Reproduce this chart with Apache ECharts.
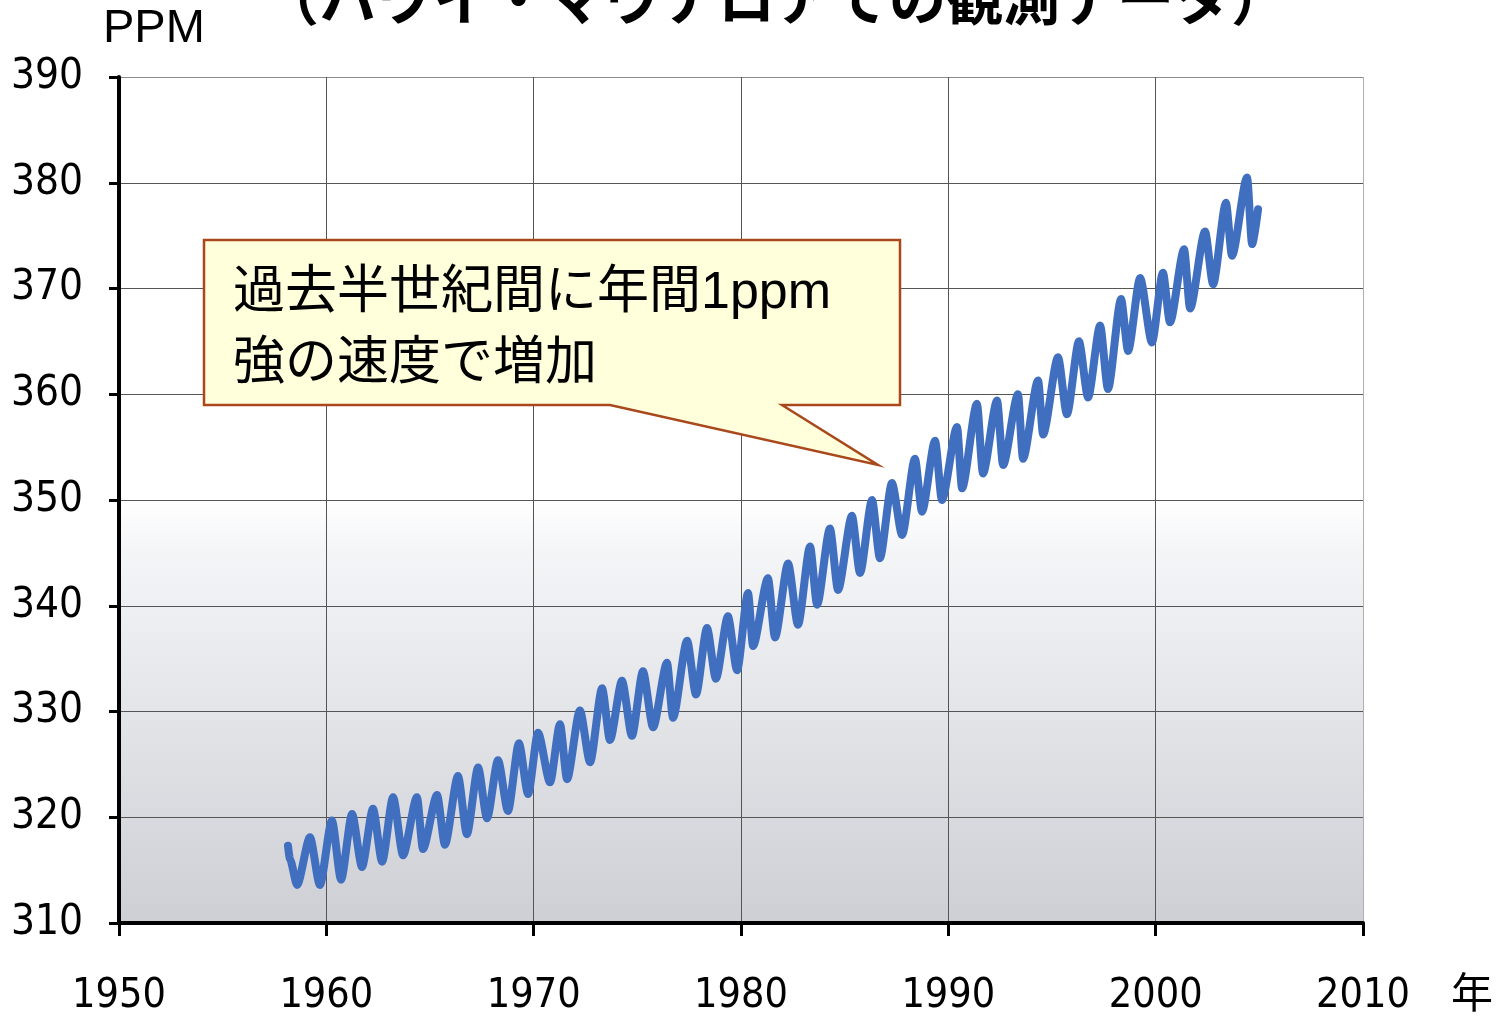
<!DOCTYPE html>
<html>
<head>
<meta charset="utf-8">
<script src="https://cdn.jsdelivr.net/npm/echarts@6/dist/echarts.min.js"></script>
<style>
  html, body { margin: 0; padding: 0; background: #fff; }
  #chart { width: 1499px; height: 1017px; }
</style>
</head>
<body>
<div id="chart"></div>
<script>
// Mauna Loa CO2 record: seasonal highs and lows (decimal year, ppm)
const years = [
  1958.15, 1958.25, 1958.59, 1959.21, 1959.69, 1960.27, 1960.71, 1961.24, 1961.72, 1962.25,
  1962.69, 1963.22, 1963.70, 1964.37, 1964.66, 1965.34, 1965.72, 1966.35, 1966.78, 1967.32,
  1967.75, 1968.28, 1968.76, 1969.29, 1969.73, 1970.21, 1970.79, 1971.27, 1971.61, 1972.23,
  1972.72, 1973.30, 1973.68, 1974.26, 1974.74, 1975.27, 1975.76, 1976.43, 1976.72, 1977.40,
  1977.83, 1978.36, 1978.79, 1979.37, 1979.81, 1980.34, 1980.58, 1981.30, 1981.64, 1982.27,
  1982.75, 1983.33, 1983.67, 1984.29, 1984.68, 1985.35, 1985.74, 1986.32, 1986.70, 1987.28,
  1987.77, 1988.39, 1988.73, 1989.36, 1989.69, 1990.42, 1990.66, 1991.38, 1991.67, 1992.35,
  1992.64, 1993.36, 1993.60, 1994.33, 1994.57, 1995.29, 1995.72, 1996.30, 1996.74, 1997.32,
  1997.70, 1998.33, 1998.67, 1999.25, 1999.82, 2000.35, 2000.69, 2001.37, 2001.66, 2002.38,
  2002.77, 2003.39, 2003.68, 2004.41, 2004.65, 2004.94
];
const ppm = [
  317.3, 316.0, 313.6, 318.1, 313.6, 319.7, 314.1, 320.3, 315.3, 320.8,
  315.8, 321.9, 316.4, 321.9, 317.0, 322.1, 317.4, 323.9, 318.4, 324.7,
  319.9, 325.4, 320.6, 327.0, 322.2, 328.0, 323.3, 328.8, 323.6, 330.1,
  325.2, 332.2, 327.3, 332.9, 327.7, 333.8, 328.5, 334.6, 329.4, 336.7,
  331.6, 337.9, 333.1, 339.0, 333.9, 341.2, 336.2, 342.6, 337.0, 344.0,
  338.2, 345.6, 340.1, 347.3, 341.5, 348.5, 343.1, 350.0, 344.5, 351.6,
  346.7, 353.9, 348.9, 355.6, 350.0, 356.9, 351.1, 359.1, 352.5, 359.4,
  353.3, 360.0, 353.9, 361.3, 356.2, 363.5, 358.1, 365.0, 359.7, 366.5,
  360.5, 369.0, 364.1, 371.0, 364.9, 371.5, 366.8, 373.7, 368.1, 375.4,
  370.4, 378.1, 373.1, 380.5, 374.2, 377.5
];

// Axis ranges and tick steps
const xTicks = [1950, 1960, 1970, 1980, 1990, 2000, 2010];
const yTicks = [310, 320, 330, 340, 350, 360, 370, 380, 390];

const chart = echarts.init(document.getElementById('chart'), null, { renderer: 'canvas' });

const numFont = '"DejaVu Sans Condensed", "Liberation Sans", sans-serif';
const jpFont = '"Noto Sans CJK JP", "Noto Sans CJK SC", sans-serif';
const mixFont = '"Liberation Sans", "Noto Sans CJK JP", sans-serif';

chart.setOption({
  animation: false,
  backgroundColor: '#ffffff',
  grid: {
    left: 119, right: 136, top: 77, bottom: 91,
    show: true,
    borderWidth: 0,
    backgroundColor: new echarts.graphic.LinearGradient(0, 0, 0, 1, [
      { offset: 0, color: '#ffffff' },
      { offset: 0.5, color: '#ffffff' },
      { offset: 0.56, color: '#f4f5f7' },
      { offset: 1, color: '#cdcfd5' }
    ])
  },
  xAxis: {
    type: 'value',
    min: xTicks[0],
    max: xTicks[xTicks.length - 1],
    interval: xTicks[1] - xTicks[0],
    axisLine: { show: true, onZero: false, lineStyle: { color: '#000', width: 4 } },
    axisTick: { show: true, length: 13, lineStyle: { color: '#000', width: 3 } },
    axisLabel: {
      margin: 53,
      color: '#000',
      fontFamily: numFont,
      fontSize: 41,
      formatter: v => String(v)
    },
    splitLine: {
      show: true,
      lineStyle: { color: ['#555', '#555', '#555', '#555', '#555', '#555', '#b0b0b0'], width: 1 }
    }
  },
  yAxis: {
    type: 'value',
    min: yTicks[0],
    max: yTicks[yTicks.length - 1],
    interval: yTicks[1] - yTicks[0],
    axisLine: { show: true, onZero: false, lineStyle: { color: '#000', width: 4 } },
    axisTick: { show: true, length: 10, lineStyle: { color: '#000', width: 3 } },
    axisLabel: {
      margin: 36,
      color: '#000',
      fontFamily: numFont,
      fontSize: 42
    },
    splitLine: {
      show: true,
      lineStyle: { color: ['#555', '#555', '#555', '#555', '#555', '#555', '#555', '#555', '#8a8a8a'], width: 1 }
    }
  },
  series: [{
    type: 'line',
    data: years.map((t, i) => [t, ppm[i]]),
    showSymbol: false,
    smooth: 0.25,
    smoothMonotone: 'x',
    lineStyle: { color: '#416fc0', width: 8, join: 'round', cap: 'round' },
    z: 5
  }],
  graphic: [
    {
      type: 'text',
      left: 103, top: 6,
      style: { text: 'PPM', font: '47px "Liberation Sans", Arial, sans-serif', fill: '#000' }
    },
    {
      type: 'text',
      x: 775, y: -2,
      style: {
        text: '（ハワイ・マウナロアでの観測データ）',
        font: 'bold 57px ' + jpFont,
        fill: '#000',
        align: 'center',
        verticalAlign: 'middle'
      }
    },
    {
      type: 'text',
      x: 1472, y: 992,
      style: {
        text: '年',
        font: '42px ' + jpFont,
        fill: '#000',
        align: 'center',
        verticalAlign: 'middle'
      }
    },
    {
      type: 'polygon',
      z: 20,
      shape: {
        points: [[204, 240], [900, 240], [900, 405], [782, 405], [878, 465], [610, 405], [204, 405]]
      },
      style: { fill: '#ffffdb', stroke: '#a9481c', lineWidth: 2.5 }
    },
    {
      type: 'text',
      z: 21,
      x: 233, y: 294,
      style: {
        text: '過去半世紀間に年間1ppm',
        font: '52px ' + mixFont,
        fill: '#000',
        verticalAlign: 'middle'
      }
    },
    {
      type: 'text',
      z: 21,
      x: 233, y: 359,
      style: {
        text: '強の速度で増加',
        font: '52px ' + jpFont,
        fill: '#000',
        verticalAlign: 'middle'
      }
    }
  ]
});
</script>
</body>
</html>
